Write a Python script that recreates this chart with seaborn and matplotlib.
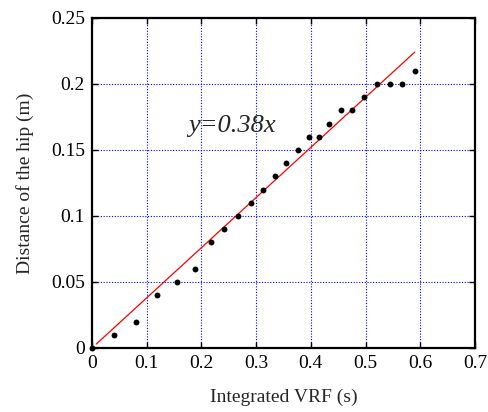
import matplotlib
matplotlib.use("Agg")
import matplotlib.pyplot as plt
import seaborn as sns
import numpy as np
import pandas as pd

# Measured hip distance versus integrated vertical reaction force
vrf = [0.0, 0.040, 0.080, 0.119, 0.155, 0.188, 0.217, 0.242, 0.267, 0.291,
       0.313, 0.335, 0.355, 0.376, 0.396, 0.414, 0.434, 0.456, 0.475, 0.498,
       0.521, 0.544, 0.567, 0.590]
hip = [0.0, 0.01, 0.02, 0.04, 0.05, 0.06, 0.08, 0.09, 0.10, 0.11,
       0.12, 0.13, 0.14, 0.15, 0.16, 0.16, 0.17, 0.18, 0.18, 0.19,
       0.20, 0.20, 0.20, 0.21]
slope = 0.38
fit_x = [0.008, 0.590]

xticks = [0, 0.1, 0.2, 0.3, 0.4, 0.5, 0.6, 0.7]
yticks = [0, 0.05, 0.1, 0.15, 0.2, 0.25]
xtick_labels = ["0", "0.1", "0.2", "0.3", "0.4", "0.5", "0.6", "0.7"]
ytick_labels = ["0", "0.05", "0.1", "0.15", "0.2", "0.25"]

sns.set_style("white")
plt.rcParams["font.family"] = ["Liberation Serif", "DejaVu Serif"]

df = pd.DataFrame({"vrf": vrf, "hip": hip})
fit = pd.DataFrame({"x": fit_x, "y": [slope * v for v in fit_x]})

fig = plt.figure(figsize=(4.88, 4.12), dpi=100)
ax = fig.add_axes([92 / 488, 1 - 348 / 412, 383 / 488, 330 / 412])

sns.lineplot(data=fit, x="x", y="y", ax=ax, color="red", linewidth=0.9)
sns.scatterplot(data=df, x="vrf", y="hip", ax=ax, color="black", s=18,
                edgecolor="black", linewidth=0, zorder=5, clip_on=False)

ax.set_xlim(0, 0.7)
ax.set_ylim(0, 0.25)
ax.set_xticks(xticks)
ax.set_xticklabels(xtick_labels)
ax.set_yticks(yticks)
ax.set_yticklabels(ytick_labels)
ax.grid(True, color="blue", linestyle=(0, (1, 1.5)), linewidth=0.8)
ax.set_axisbelow(True)
ax.tick_params(direction="in", length=4, width=1, colors="black",
               labelsize=14, top=True, right=True, bottom=True, left=True, pad=5)
for sp in ax.spines.values():
    sp.set_color("black")
    sp.set_linewidth(1.6)

ax.set_xlabel("Integrated VRF (s)", fontsize=14, labelpad=12)
ax.set_ylabel("Distance of the hip (m)", fontsize=14, labelpad=12)

ax.text(0.175, 0.168, "y=0.38x", fontsize=19, style="italic",
        va="center", ha="left")

fig.savefig("out.png", dpi=100)
